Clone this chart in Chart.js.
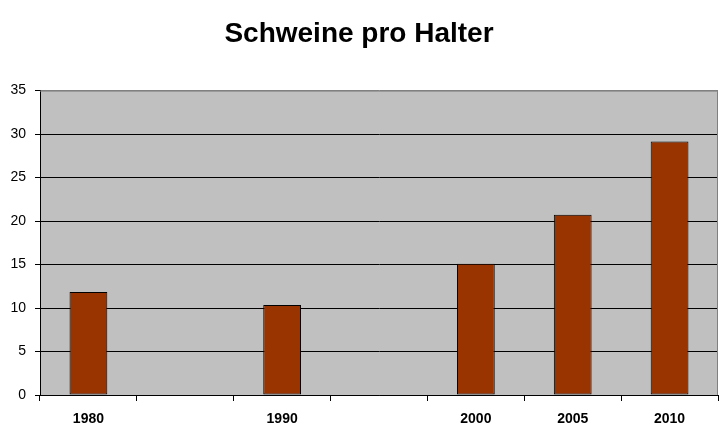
<!DOCTYPE html>
<html>
<head>
<meta charset="utf-8">
<script src="https://cdn.jsdelivr.net/npm/chart.js@4.4.1/dist/chart.umd.min.js"></script>
<style>
  html, body { margin: 0; padding: 0; background: #fff; }
  #wrap { width: 728px; height: 439px; }
</style>
</head>
<body>
<div id="wrap"><canvas id="chart" width="728" height="439"></canvas></div>
<script>
// Daten
const jahre = ['1980', '', '1990', '', '2000', '2005', '2010'];
const schweine = [11.85, null, 10.35, null, 15.08, 20.73, 29.15];
const yTicks = [0, 5, 10, 15, 20, 25, 30, 35];

// Hintergrund und Rahmen der Zeichenfläche
const plotBg = {
  id: 'plotBg',
  beforeDraw(chart) {
    const { ctx, chartArea: a } = chart;
    ctx.save();
    ctx.fillStyle = '#C0C0C0';
    ctx.fillRect(a.left, a.top, a.right - a.left, a.bottom - a.top);
    ctx.restore();
  },
  afterDatasetsDraw(chart) {
    const { ctx, chartArea: a } = chart;
    ctx.save();
    ctx.strokeStyle = '#808080';
    ctx.lineWidth = 1;
    ctx.beginPath();
    ctx.moveTo(a.left, a.top + 0.5);
    ctx.lineTo(a.right - 0.5, a.top + 0.5);
    ctx.lineTo(a.right - 0.5, a.bottom);
    ctx.stroke();
    ctx.restore();
  }
};

const ctx = document.getElementById('chart').getContext('2d');
new Chart(ctx, {
  type: 'bar',
  data: {
    labels: jahre,
    datasets: [{
      data: schweine,
      backgroundColor: '#993300',
      borderColor: '#000000',
      borderWidth: 1,
      borderSkipped: false,
      barPercentage: 0.39,
      categoryPercentage: 1
    }]
  },
  options: {
    responsive: false,
    animation: false,
    layout: { padding: { left: 0, right: 10, top: 0, bottom: 0 } },
    plugins: {
      legend: { display: false },
      tooltip: { enabled: false },
      title: {
        display: true,
        text: 'Schweine pro Halter',
        color: '#000',
        font: { family: 'Arial, "Liberation Sans", sans-serif', size: 28, weight: 'bold', lineHeight: 1.2 },
        padding: { top: 17, bottom: 40 }
      }
    },
    scales: {
      x: {
        offset: true,
        grid: {
          display: true,
          drawOnChartArea: false,
          drawTicks: true,
          tickLength: 6,
          color: '#000',
          offset: true
        },
        border: { color: '#000', width: 1 },
        ticks: {
          color: '#000',
          padding: 10,
          maxRotation: 0,
          autoSkip: false,
          font: { family: 'Arial, "Liberation Sans", sans-serif', size: 14, weight: 'bold' }
        },
        afterFit(scale) { scale.height = 44; }
      },
      y: {
        min: 0,
        max: 35,
        afterBuildTicks(scale) { scale.ticks = yTicks.map(v => ({ value: v })); },
        grid: {
          color: (c) => (c.tick && c.tick.value === 35 ? '#808080' : '#000'),
          tickColor: '#000',
          tickLength: 5,
          lineWidth: 1
        },
        border: { color: '#000', width: 1 },
        ticks: {
          color: '#000',
          padding: 9,
          font: { family: 'Arial, "Liberation Sans", sans-serif', size: 14 }
        },
        afterFit(scale) { scale.width = 40; }
      }
    }
  },
  plugins: [plotBg]
});
</script>
</body>
</html>
